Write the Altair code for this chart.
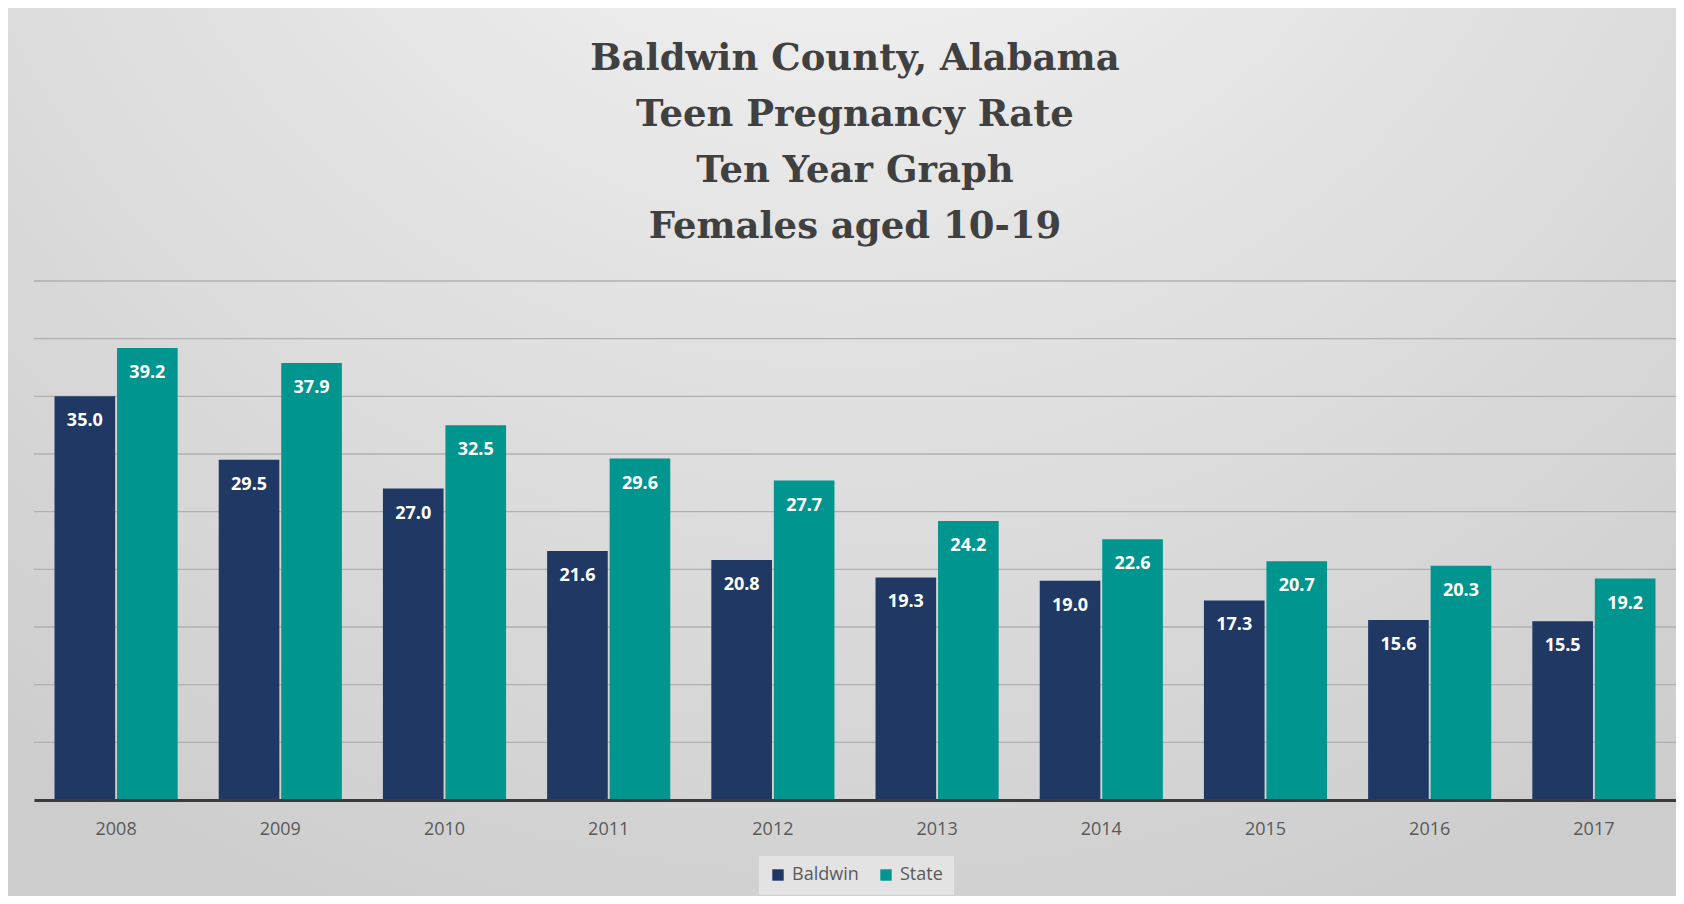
import altair as alt
import pandas as pd

years = ["2008", "2009", "2010", "2011", "2012", "2013", "2014", "2015", "2016", "2017"]
baldwin = [35.0, 29.5, 27.0, 21.6, 20.8, 19.3, 19.0, 17.3, 15.6, 15.5]
state = [39.2, 37.9, 32.5, 29.6, 27.7, 24.2, 22.6, 20.7, 20.3, 19.2]
series = ["Baldwin", "State"]
colors = ["#1f3864", "#00958f"]
grid_values = [5, 10, 15, 20, 25, 30, 35, 40, 45]
title_lines = ["Baldwin County, Alabama", "Teen Pregnancy Rate", "Ten Year Graph", "Females aged 10-19"]

rows = []
for i, y in enumerate(years):
    rows.append({"year": y, "series": "Baldwin", "value": baldwin[i]})
    rows.append({"year": y, "series": "State", "value": state[i]})
df = pd.DataFrame(rows)
grid_df = pd.DataFrame({"g": grid_values})

PL, PR, PT, PB = 26, 0, 273, 96
W, H = 1642, 519

grad = alt.RadialGradient(
    gradient="radial",
    x1=0.5, y1=0.0, r1=0.0,
    x2=0.5, y2=0.0, r2=0.85,
    stops=[
        alt.GradientStop(offset=0.0, color="#fbfbfb"),
        alt.GradientStop(offset=0.45, color="#e4e4e4"),
        alt.GradientStop(offset=1.0, color="#cdcdcd"),
    ],
)

bg = alt.Chart(pd.DataFrame({"a": [0]})).mark_rect(color=grad, clip=False).encode(
    x=alt.value(-PL), x2=alt.value(W + PR), y=alt.value(-PT), y2=alt.value(H + PB)
)

yscale = alt.Scale(domain=[0, 45], nice=False)

grid = alt.Chart(grid_df).mark_rule(color="#b0b0b0", strokeWidth=1.3).encode(
    y=alt.Y("g:Q", scale=yscale, axis=None),
    x=alt.value(0),
    x2=alt.value(W),
)

xenc = alt.X(
    "year:N",
    sort=years,
    scale=alt.Scale(paddingInner=0.25, paddingOuter=0.125),
    axis=alt.Axis(
        title=None, labelAngle=0, ticks=False, tickSize=0, labelPadding=20,
        labelFont="Open Sans", labelFontSize=18, labelColor="#595959",
        domainColor="#3a3a3a", domainWidth=3, grid=False, zindex=2,
    ),
)

bars = alt.Chart(df).mark_bar().encode(
    x=xenc,
    xOffset=alt.XOffset("series:N", sort=series, scale=alt.Scale(paddingInner=0.03)),
    y=alt.Y("value:Q", scale=yscale, axis=None),
    color=alt.Color(
        "series:N",
        sort=series,
        scale=alt.Scale(domain=series, range=colors),
        legend=alt.Legend(
            title=None, orient="none", direction="horizontal",
            legendX=725, legendY=575,
            symbolType="square", symbolSize=130, symbolStrokeWidth=0,
            labelFont="Open Sans", labelFontSize=18, labelColor="#595959",
            labelOffset=5, columnPadding=18, padding=10,
            fillColor="#e3e3e3", strokeColor="#e3e3e3", cornerRadius=0,
            zindex=2,
        ),
    ),
)

labels = alt.Chart(df).mark_text(
    color="white", font="Open Sans", fontWeight="bold", fontSize=18,
    baseline="middle", dy=25,
).encode(
    x=alt.X("year:N", sort=years),
    xOffset=alt.XOffset("series:N", sort=series),
    y=alt.Y("value:Q", scale=yscale),
    text=alt.Text("value:Q", format=".1f"),
)

chart = alt.layer(bg, grid, bars, labels).properties(
    width=W,
    height=H,
    padding={"left": PL, "right": PR, "top": PT, "bottom": PB},
    autosize=alt.AutoSizeParams(type="none"),
    title=alt.Title(
        text=title_lines, anchor="middle", frame="group", font="DejaVu Serif",
        fontWeight="bold", fontSize=37, color="#404040", lineHeight=56,
        offset=-238, zindex=2,
    ),
).configure_view(stroke=None).configure(background="white")

chart.save("out.html", embed_options={"renderer": "svg", "actions": False})
